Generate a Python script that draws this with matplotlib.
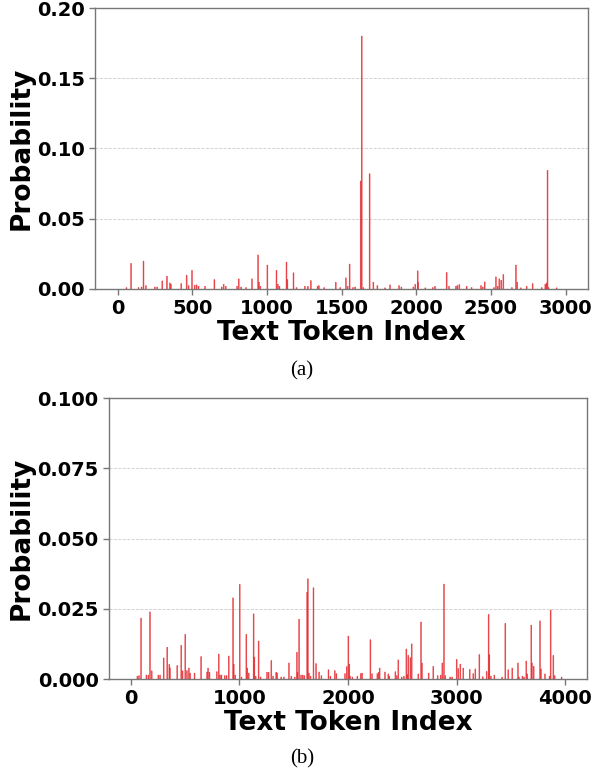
"""Token probability over text tokens, two panels (a) and (b)"""
import numpy as np
import matplotlib
matplotlib.use('Agg')
import matplotlib.pyplot as plt

RED = '#e4262b'
SPINE = '#777777'

# ---- panel (a): 3000 tokens, nonzero peaks ----
a_len = 3000
a_idx = [58, 89, 139, 159, 172, 188, 248, 264, 298, 329, 349, 356, 425, 461, 474,
         497, 515, 528, 541, 584, 647, 696, 709, 723, 799, 810, 826, 859, 899, 940,
         946, 955, 1002, 1063, 1072, 1083, 1130, 1136, 1177, 1197, 1253, 1273, 1293,
         1338, 1347, 1383, 1460, 1490, 1528, 1540, 1553, 1575, 1590, 1627, 1634, 1645,
         1687, 1712, 1739, 1790, 1824, 1884, 1900, 1980, 1993, 2009, 2012, 2060, 2110,
         2125, 2203, 2219, 2265, 2275, 2288, 2337, 2370, 2433, 2445, 2458, 2520, 2533,
         2545, 2556, 2569, 2583, 2640, 2667, 2676, 2700, 2739, 2779, 2840, 2864, 2872,
         2879, 2886, 2940]
a_val = [0.0010, 0.0182, 0.0010, 0.0014, 0.0198, 0.0024, 0.0014, 0.0014, 0.0057, 0.0091,
         0.0043, 0.0033, 0.0038, 0.0098, 0.0024, 0.0132, 0.0026, 0.0029, 0.0019, 0.0019,
         0.0067, 0.0014, 0.0033, 0.0019, 0.0019, 0.0072, 0.0014, 0.0010, 0.0072, 0.0242,
         0.0048, 0.0019, 0.0170, 0.0132, 0.0033, 0.0019, 0.0191, 0.0067, 0.0115, 0.0010,
         0.0019, 0.0019, 0.0060, 0.0019, 0.0024, 0.0010, 0.0048, 0.0010, 0.0079, 0.0019,
         0.0177, 0.0010, 0.0014, 0.0768, 0.1800, 0.0010, 0.0820, 0.0048, 0.0024, 0.0008,
         0.0029, 0.0024, 0.0014, 0.0014, 0.0033, 0.0129, 0.0048, 0.0008, 0.0010, 0.0019,
         0.0117, 0.0019, 0.0019, 0.0024, 0.0031, 0.0019, 0.0010, 0.0024, 0.0014, 0.0050,
         0.0010, 0.0086, 0.0019, 0.0072, 0.0062, 0.0103, 0.0010, 0.0170, 0.0048, 0.0008,
         0.0019, 0.0038, 0.0010, 0.0033, 0.0043, 0.0844, 0.0010, 0.0008]

# ---- panel (b): 4000 tokens ----
b_len = 4000
b_idx = [61, 76, 95, 144, 162, 177, 193, 254, 270, 303, 336, 355, 361, 428, 465, 477,
         502, 517, 535, 547, 587, 648, 703, 712, 725, 792, 810, 822, 835, 865, 882,
         902, 942, 948, 962, 1003, 1020, 1064, 1073, 1086, 1131, 1138, 1150, 1177,
         1195, 1254, 1269, 1294, 1310, 1339, 1348, 1385, 1410, 1456, 1478, 1510, 1529,
         1535, 1550, 1568, 1583, 1598, 1624, 1630, 1640, 1655, 1682, 1706, 1734, 1755,
         1820, 1838, 1878, 1893, 1972, 1988, 2003, 2012, 2018, 2040, 2086, 2117, 2130,
         2206, 2221, 2270, 2282, 2291, 2340, 2371, 2380, 2436, 2449, 2463, 2494, 2514,
         2537, 2546, 2555, 2574, 2586, 2647, 2672, 2681, 2742, 2785, 2825, 2853, 2868,
         2883, 2895, 2940, 2958, 3000, 3015, 3034, 3061, 3120, 3153, 3172, 3209, 3240,
         3276, 3294, 3301, 3315, 3347, 3418, 3448, 3475, 3512, 3564, 3573, 3605, 3620,
         3641, 3650, 3687, 3693, 3709, 3767, 3776, 3813, 3855, 3865, 3890, 3902, 3966]
b_val = [0.0010, 0.0012, 0.0217, 0.0014, 0.0014, 0.0239, 0.0029, 0.0014, 0.0014, 0.0075,
         0.0113, 0.0052, 0.0040, 0.0048, 0.0120, 0.0029, 0.0159, 0.0030, 0.0039, 0.0021,
         0.0021, 0.0080, 0.0025, 0.0039, 0.0024, 0.0026, 0.0089, 0.0014, 0.0014, 0.0012,
         0.0012, 0.0082, 0.0289, 0.0053, 0.0014, 0.0337, 0.0007, 0.0159, 0.0039, 0.0021,
         0.0232, 0.0078, 0.0010, 0.0135, 0.0007, 0.0024, 0.0024, 0.0066, 0.0010, 0.0024,
         0.0021, 0.0007, 0.0007, 0.0057, 0.0010, 0.0007, 0.0095, 0.0024, 0.0213, 0.0014,
         0.0014, 0.0012, 0.0309, 0.0357, 0.0021, 0.0010, 0.0325, 0.0055, 0.0025, 0.0012,
         0.0033, 0.0010, 0.0030, 0.0019, 0.0019, 0.0044, 0.0153, 0.0053, 0.0010, 0.0007,
         0.0010, 0.0019, 0.0021, 0.0140, 0.0019, 0.0019, 0.0024, 0.0039, 0.0025, 0.0018,
         0.0010, 0.0026, 0.0012, 0.0068, 0.0007, 0.0010, 0.0107, 0.0016, 0.0084, 0.0076,
         0.0125, 0.0018, 0.0203, 0.0057, 0.0021, 0.0045, 0.0012, 0.0014, 0.0057, 0.0338,
         0.0012, 0.0007, 0.0007, 0.0070, 0.0037, 0.0053, 0.0039, 0.0034, 0.0019, 0.0036,
         0.0087, 0.0008, 0.0027, 0.0230, 0.0087, 0.0010, 0.0014, 0.0007, 0.0198, 0.0033,
         0.0039, 0.0057, 0.0007, 0.0010, 0.0007, 0.0064, 0.0018, 0.0192, 0.0057, 0.0045,
         0.0207, 0.0036, 0.0018, 0.0010, 0.0246, 0.0084, 0.0012, 0.0007]

a_ticks = [0, 500, 1000, 1500, 2000, 2500, 3000]
a_yticks = [0.00, 0.05, 0.10, 0.15, 0.20]
b_ticks = [0, 1000, 2000, 3000, 4000]
b_yticks = [0.000, 0.025, 0.050, 0.075, 0.100]

fig = plt.figure(figsize=(6.04, 7.71), dpi=100)
fig.patch.set_facecolor('white')
ax_a = fig.add_axes([0.158, 0.6252, 0.8155, 0.3644])
ax_b = fig.add_axes([0.1805, 0.1193, 0.7914, 0.3641])


def style(ax, n, idx, val, width, xticks, yticks, yfmt, ylim):
    ax.bar(idx, val, width=width, color=RED, edgecolor=RED,
           linewidth=0.4, alpha=0.8, snap=False)
    ax.set_xlim(-0.05 * n, 1.05 * n)
    ax.set_ylim(0, ylim)
    ax.set_xticks(xticks)
    ax.set_yticks(yticks)
    ax.set_yticklabels([yfmt.format(v) for v in yticks])
    ax.grid(axis='y', linestyle='--', color='#cccccc', linewidth=0.6)
    ax.set_axisbelow(True)
    for s in ax.spines.values():
        s.set_color(SPINE)
        s.set_linewidth(1.0)
    ax.tick_params(axis='both', colors=SPINE, labelcolor='black', length=4, width=1)
    for lab in ax.get_xticklabels() + ax.get_yticklabels():
        lab.set_fontsize(14)
        lab.set_fontweight('bold')
    ax.set_xlabel('Text Token Index', fontsize=19, fontweight='bold', labelpad=1)
    ax.set_ylabel('Probability', fontsize=19, fontweight='bold', labelpad=2)


style(ax_a, a_len, a_idx, a_val, 6, a_ticks, a_yticks, '{:.2f}', 0.20)
style(ax_b, b_len, b_idx, b_val, 8, b_ticks, b_yticks, '{:.3f}', 0.100)

fig.text(0.5, 1 - 371 / 771, '(a)', ha='center', va='center', fontsize=15,
         family=['Liberation Serif', 'DejaVu Serif'])
fig.text(0.5, 1 - 759 / 771, '(b)', ha='center', va='center', fontsize=15,
         family=['Liberation Serif', 'DejaVu Serif'])

fig.savefig('out.png', dpi=100, facecolor='white')
